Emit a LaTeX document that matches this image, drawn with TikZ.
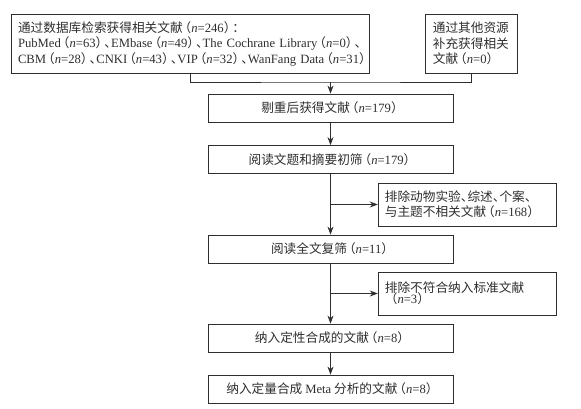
\documentclass[tikz,border=0pt]{standalone}
\usepackage{fontspec}
\setmainfont{Liberation Serif}
\newfontfamily\cjk{Noto Sans CJK SC}
\usetikzlibrary{arrows.meta}
\definecolor{ink}{HTML}{2E2E2E}
\newcommand{\lat}[1]{{\rmfamily #1}}
\newcommand{\nn}[1]{\kern-3pt（{\rmfamily\textit{n}=#1}）\kern-3pt}
\newcommand{\dn}{、\kern-4.5pt}

\begin{document}
\begin{tikzpicture}[
    x=0.75pt, y=-0.75pt,
    >={Stealth[length=6pt, width=4.5pt]},
    font=\cjk\fontsize{9.5}{11.6}\selectfont,
    box/.style={
        draw=ink, line width=0.6pt, text=ink,
        minimum height=21pt, minimum width=183.75pt,
        inner sep=4pt, align=center
    },
    sidebox/.style={
        draw=ink, line width=0.6pt, text=ink,
        minimum height=32.25pt, text width=124pt,
        inner sep=5pt, align=left
    },
    line/.style={draw=ink, line width=0.6pt},
    arr/.style={->, line},
]
\useasboundingbox (0,0) rectangle (581,408);

% Top row: sources of records
\node[sidebox, text width=258pt, minimum height=44.25pt, inner sep=5.2pt] (db) at (190,43.5)
    {\mbox{通过数据库检索获得相关文献\nn{246}：}\\
     \mbox{\lat{PubMed}\nn{63}\dn\lat{EMbase}\nn{49}\dn\lat{The Cochrane Library}\nn{0}\dn}\\
     \mbox{\lat{CBM}\nn{28}\dn\lat{CNKI}\nn{43}\dn\lat{VIP}\nn{32}\dn\lat{WanFang Data}\nn{31}}};
\node[sidebox, text width=58pt, minimum height=44.25pt, inner sep=5.7pt] (other) at (471.5,43.5)
    {通过其他资源\\补充获得相关\\文献\nn{0}};

% Main column (x = 330.5)
\node[box] (dedup) at (330.5,108) {剔重后获得文献\nn{179}};
\node[box] (title) at (330.5,159.5) {阅读文题和摘要初筛\nn{179}};
\node[box] (full) at (330.5,249) {阅读全文复筛\nn{11}};
\node[box] (qual) at (330.5,338) {纳入定性合成的文献\nn{8}};
\node[box] (quant) at (330.5,389) {纳入定量合成 \lat{Meta} 分析的文献\nn{8}};

% Right column: excluded records
\node[sidebox] (excl1) at (467.5,204.5) {排除动物实验\dn 综述\dn 个案\dn\\与主题不相关文献\nn{168}};
\node[sidebox] (excl2) at (467.5,293.5) {排除不符合纳入标准文献\\\nn{3}};

% Merge of both sources
\coordinate (merge) at (330.5,82);
\draw[line] (db.south) |- (merge) -| (other.south);
\draw[arr] (merge) -- (dedup);

% Main flow downward
\draw[arr] (dedup) -- (title);
\draw[arr] (title) -- (full);
\draw[arr] (full) -- (qual);
\draw[arr] (qual) -- (quant);

% Branches to exclusions
\draw[arr] (title.south |- excl1.west) -- (excl1.west);
\draw[arr] (full.south |- excl2.west) -- (excl2.west);

\end{tikzpicture}
\end{document}
